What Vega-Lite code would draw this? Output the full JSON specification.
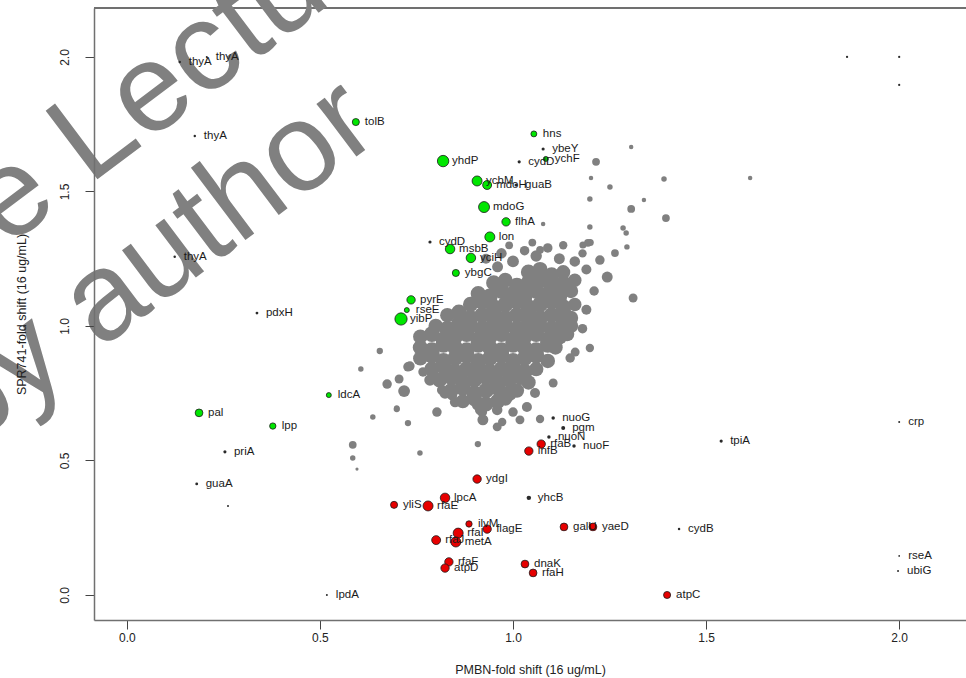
{
"$schema":"https://vega.github.io/schema/vega-lite/v6.json",
"width":872,"height":612,
"autosize":{"type":"none"},
"padding":{"left":94,"top":8,"right":0,"bottom":58},
"background":"white",
"config":{"view":{"stroke":null},"font":"Liberation Sans"},
"data":{"values":[
{"x":1.04,"y":1.20,"w":23,"g":"n"},{"x":1.07,"y":1.21,"w":23,"g":"n"},{"x":1.10,"y":1.19,"w":23,"g":"n"},{"x":1.13,"y":1.20,"w":20,"g":"n"},
{"x":0.95,"y":1.16,"w":23,"g":"n"},{"x":0.98,"y":1.17,"w":22,"g":"n"},{"x":1.01,"y":1.15,"w":25,"g":"n"},{"x":1.04,"y":1.16,"w":25,"g":"n"},{"x":1.07,"y":1.17,"w":25,"g":"n"},{"x":1.10,"y":1.15,"w":25,"g":"n"},{"x":1.13,"y":1.16,"w":23,"g":"n"},{"x":1.16,"y":1.17,"w":18,"g":"n"},
{"x":0.91,"y":1.12,"w":23,"g":"n"},{"x":0.94,"y":1.11,"w":25,"g":"n"},{"x":0.97,"y":1.13,"w":25,"g":"n"},{"x":1.00,"y":1.12,"w":25,"g":"n"},{"x":1.03,"y":1.11,"w":25,"g":"n"},{"x":1.06,"y":1.13,"w":25,"g":"n"},{"x":1.09,"y":1.12,"w":25,"g":"n"},{"x":1.12,"y":1.11,"w":25,"g":"n"},{"x":1.15,"y":1.13,"w":21,"g":"n"},
{"x":0.89,"y":1.08,"w":23,"g":"n"},{"x":0.92,"y":1.09,"w":25,"g":"n"},{"x":0.95,"y":1.07,"w":25,"g":"n"},{"x":0.98,"y":1.08,"w":25,"g":"n"},{"x":1.01,"y":1.09,"w":25,"g":"n"},{"x":1.04,"y":1.07,"w":25,"g":"n"},{"x":1.07,"y":1.08,"w":25,"g":"n"},{"x":1.10,"y":1.09,"w":25,"g":"n"},{"x":1.13,"y":1.07,"w":25,"g":"n"},{"x":1.16,"y":1.08,"w":18,"g":"n"},
{"x":0.83,"y":1.04,"w":21,"g":"n"},{"x":0.86,"y":1.05,"w":25,"g":"n"},{"x":0.89,"y":1.03,"w":25,"g":"n"},{"x":0.92,"y":1.04,"w":25,"g":"n"},{"x":0.95,"y":1.05,"w":25,"g":"n"},{"x":0.98,"y":1.03,"w":25,"g":"n"},{"x":1.01,"y":1.04,"w":25,"g":"n"},{"x":1.04,"y":1.05,"w":25,"g":"n"},{"x":1.07,"y":1.03,"w":25,"g":"n"},{"x":1.10,"y":1.04,"w":25,"g":"n"},{"x":1.13,"y":1.05,"w":25,"g":"n"},{"x":1.15,"y":1.03,"w":21,"g":"n"},
{"x":0.80,"y":1.00,"w":21,"g":"n"},{"x":0.83,"y":0.99,"w":25,"g":"n"},{"x":0.86,"y":1.01,"w":25,"g":"n"},{"x":0.89,"y":1.00,"w":25,"g":"n"},{"x":0.92,"y":0.99,"w":25,"g":"n"},{"x":0.95,"y":1.01,"w":25,"g":"n"},{"x":0.98,"y":1.00,"w":25,"g":"n"},{"x":1.01,"y":0.99,"w":25,"g":"n"},{"x":1.04,"y":1.01,"w":25,"g":"n"},{"x":1.07,"y":1.00,"w":25,"g":"n"},{"x":1.10,"y":0.99,"w":25,"g":"n"},{"x":1.13,"y":1.01,"w":25,"g":"n"},{"x":1.15,"y":1.00,"w":21,"g":"n"},
{"x":0.76,"y":0.96,"w":21,"g":"n"},{"x":0.79,"y":0.97,"w":25,"g":"n"},{"x":0.82,"y":0.95,"w":25,"g":"n"},{"x":0.85,"y":0.96,"w":25,"g":"n"},{"x":0.88,"y":0.97,"w":25,"g":"n"},{"x":0.91,"y":0.95,"w":25,"g":"n"},{"x":0.94,"y":0.96,"w":25,"g":"n"},{"x":0.97,"y":0.97,"w":25,"g":"n"},{"x":1.00,"y":0.95,"w":25,"g":"n"},{"x":1.03,"y":0.96,"w":25,"g":"n"},{"x":1.06,"y":0.97,"w":25,"g":"n"},{"x":1.09,"y":0.95,"w":25,"g":"n"},{"x":1.12,"y":0.96,"w":25,"g":"n"},{"x":1.14,"y":0.97,"w":21,"g":"n"},
{"x":0.76,"y":0.92,"w":23,"g":"n"},{"x":0.79,"y":0.91,"w":25,"g":"n"},{"x":0.82,"y":0.93,"w":25,"g":"n"},{"x":0.85,"y":0.92,"w":25,"g":"n"},{"x":0.88,"y":0.91,"w":25,"g":"n"},{"x":0.91,"y":0.93,"w":25,"g":"n"},{"x":0.94,"y":0.92,"w":25,"g":"n"},{"x":0.97,"y":0.91,"w":25,"g":"n"},{"x":1.00,"y":0.93,"w":25,"g":"n"},{"x":1.03,"y":0.92,"w":25,"g":"n"},{"x":1.06,"y":0.91,"w":25,"g":"n"},{"x":1.09,"y":0.93,"w":25,"g":"n"},{"x":1.11,"y":0.92,"w":21,"g":"n"},
{"x":0.76,"y":0.88,"w":21,"g":"n"},{"x":0.79,"y":0.89,"w":25,"g":"n"},{"x":0.82,"y":0.87,"w":25,"g":"n"},{"x":0.85,"y":0.88,"w":25,"g":"n"},{"x":0.88,"y":0.89,"w":25,"g":"n"},{"x":0.91,"y":0.87,"w":25,"g":"n"},{"x":0.94,"y":0.88,"w":25,"g":"n"},{"x":0.97,"y":0.89,"w":25,"g":"n"},{"x":1.00,"y":0.87,"w":25,"g":"n"},{"x":1.03,"y":0.88,"w":25,"g":"n"},{"x":1.06,"y":0.89,"w":25,"g":"n"},{"x":1.09,"y":0.87,"w":21,"g":"n"},
{"x":0.79,"y":0.84,"w":23,"g":"n"},{"x":0.82,"y":0.85,"w":25,"g":"n"},{"x":0.85,"y":0.83,"w":25,"g":"n"},{"x":0.88,"y":0.84,"w":25,"g":"n"},{"x":0.91,"y":0.85,"w":25,"g":"n"},{"x":0.94,"y":0.83,"w":25,"g":"n"},{"x":0.97,"y":0.84,"w":25,"g":"n"},{"x":1.00,"y":0.85,"w":25,"g":"n"},{"x":1.03,"y":0.83,"w":25,"g":"n"},{"x":1.06,"y":0.84,"w":21,"g":"n"},
{"x":0.81,"y":0.80,"w":23,"g":"n"},{"x":0.84,"y":0.81,"w":25,"g":"n"},{"x":0.87,"y":0.79,"w":25,"g":"n"},{"x":0.90,"y":0.80,"w":25,"g":"n"},{"x":0.93,"y":0.81,"w":25,"g":"n"},{"x":0.96,"y":0.79,"w":25,"g":"n"},{"x":0.99,"y":0.80,"w":25,"g":"n"},{"x":1.02,"y":0.81,"w":25,"g":"n"},{"x":1.04,"y":0.79,"w":21,"g":"n"},
{"x":0.84,"y":0.76,"w":23,"g":"n"},{"x":0.87,"y":0.77,"w":25,"g":"n"},{"x":0.90,"y":0.75,"w":25,"g":"n"},{"x":0.93,"y":0.76,"w":25,"g":"n"},{"x":0.96,"y":0.77,"w":25,"g":"n"},{"x":0.99,"y":0.75,"w":25,"g":"n"},{"x":1.01,"y":0.76,"w":21,"g":"n"},
{"x":0.87,"y":0.72,"w":20,"g":"n"},{"x":0.90,"y":0.73,"w":23,"g":"n"},{"x":0.93,"y":0.71,"w":23,"g":"n"},{"x":0.96,"y":0.72,"w":23,"g":"n"},{"x":0.98,"y":0.73,"w":20,"g":"n"},
{"x":0.93,"y":1.25,"w":10,"g":"n"},{"x":0.97,"y":1.27,"w":11,"g":"n"},{"x":1.00,"y":1.24,"w":14,"g":"n"},{"x":1.03,"y":1.28,"w":9,"g":"n"},{"x":1.06,"y":1.26,"w":13,"g":"n"},{"x":1.09,"y":1.29,"w":9,"g":"n"},{"x":1.12,"y":1.25,"w":12,"g":"n"},{"x":0.99,"y":1.30,"w":6,"g":"n"},{"x":1.05,"y":1.31,"w":6,"g":"n"},{"x":1.13,"y":1.30,"w":7,"g":"n"},{"x":1.16,"y":1.24,"w":11,"g":"n"},{"x":1.19,"y":1.21,"w":10,"g":"n"},{"x":1.18,"y":1.27,"w":7,"g":"n"},{"x":0.96,"y":1.22,"w":12,"g":"n"},{"x":1.225,"y":1.245,"w":9,"g":"n"},{"x":1.20,"y":1.31,"w":5,"g":"n"},{"x":1.244,"y":1.182,"w":12,"g":"n"},{"x":1.21,"y":1.13,"w":9,"g":"n"},{"x":1.19,"y":1.06,"w":10,"g":"n"},{"x":1.18,"y":0.99,"w":9,"g":"n"},
{"x":0.655,"y":0.907,"w":4,"g":"n"},{"x":0.606,"y":0.840,"w":3,"g":"n"},{"x":0.733,"y":0.851,"w":9,"g":"n"},{"x":0.705,"y":0.803,"w":8,"g":"n"},{"x":0.674,"y":0.784,"w":9,"g":"n"},{"x":0.718,"y":0.758,"w":14,"g":"n"},{"x":0.699,"y":0.695,"w":3,"g":"n"},{"x":0.637,"y":0.662,"w":3,"g":"n"},{"x":0.767,"y":0.829,"w":9,"g":"n"},{"x":0.585,"y":0.558,"w":6,"g":"n"},{"x":0.585,"y":0.509,"w":3,"g":"n"},{"x":0.596,"y":0.468,"w":1,"g":"n"},{"x":0.728,"y":0.848,"w":9,"g":"n"},{"x":0.785,"y":0.799,"w":13,"g":"n"},{"x":0.824,"y":0.751,"w":13,"g":"n"},{"x":0.850,"y":0.717,"w":11,"g":"n"},{"x":0.915,"y":0.688,"w":11,"g":"n"},{"x":0.959,"y":0.688,"w":11,"g":"n"},{"x":1.000,"y":0.680,"w":9,"g":"n"},{"x":1.036,"y":0.699,"w":10,"g":"n"},{"x":0.816,"y":0.762,"w":10,"g":"n"},{"x":0.842,"y":0.743,"w":11,"g":"n"},{"x":0.907,"y":0.706,"w":11,"g":"n"},{"x":0.803,"y":0.680,"w":9,"g":"n"},{"x":0.920,"y":0.680,"w":10,"g":"n"},{"x":0.922,"y":0.651,"w":12,"g":"n"},{"x":0.959,"y":0.625,"w":8,"g":"n"},{"x":0.972,"y":0.643,"w":7,"g":"n"},{"x":1.018,"y":0.651,"w":8,"g":"n"},{"x":1.070,"y":0.654,"w":7,"g":"n"},{"x":0.759,"y":0.528,"w":3,"g":"n"},{"x":0.909,"y":0.561,"w":4,"g":"n"},{"x":0.699,"y":0.691,"w":4,"g":"n"},{"x":0.728,"y":0.639,"w":4,"g":"n"},{"x":0.863,"y":0.792,"w":10,"g":"n"},{"x":1.104,"y":0.788,"w":8,"g":"n"},{"x":1.057,"y":0.751,"w":10,"g":"n"},{"x":1.148,"y":0.881,"w":9,"g":"n"},{"x":1.161,"y":0.903,"w":8,"g":"n"},{"x":1.199,"y":0.918,"w":7,"g":"n"},{"x":1.194,"y":1.309,"w":6,"g":"n"},{"x":1.199,"y":1.368,"w":3,"g":"n"},{"x":1.311,"y":1.104,"w":8,"g":"n"},{"x":1.295,"y":1.294,"w":3,"g":"n"},{"x":1.306,"y":1.665,"w":2,"g":"n"},{"x":1.215,"y":1.610,"w":6,"g":"n"},{"x":1.614,"y":1.550,"w":2,"g":"n"},{"x":1.202,"y":1.550,"w":2,"g":"n"},{"x":1.391,"y":1.546,"w":3,"g":"n"},{"x":1.251,"y":1.517,"w":3,"g":"n"},{"x":1.199,"y":1.472,"w":3,"g":"n"},{"x":1.339,"y":1.468,"w":2,"g":"n"},{"x":1.306,"y":1.435,"w":6,"g":"n"},{"x":1.396,"y":1.401,"w":6,"g":"n"},{"x":1.285,"y":1.364,"w":3,"g":"n"},{"x":1.293,"y":1.346,"w":3,"g":"n"},{"x":1.264,"y":1.271,"w":6,"g":"n"},{"x":1.078,"y":1.379,"w":2,"g":"n"},{"x":1.181,"y":1.301,"w":5,"g":"n"},{"x":1.070,"y":1.283,"w":6,"g":"n"},
{"x":1.865,"y":2.0,"w":0.5,"g":"h"},{"x":2.0,"y":2.0,"w":0.5,"g":"h"},{"x":2.0,"y":1.896,"w":0.5,"g":"h"},
{"x":0.137,"y":1.981,"w":0.6,"g":"h","label":"thyA"},
{"x":0.207,"y":2.000,"w":0.4,"g":"h","label":"thyA"},
{"x":0.176,"y":1.706,"w":0.6,"g":"h","label":"thyA"},
{"x":0.124,"y":1.257,"w":0.6,"g":"h","label":"thyA"},
{"x":0.337,"y":1.048,"w":0.8,"g":"h","label":"pdxH"},
{"x":1.078,"y":1.658,"w":1,"g":"h","label":"ybeY"},
{"x":1.016,"y":1.610,"w":1,"g":"h","label":"cydD"},
{"x":1.008,"y":1.524,"w":1,"g":"h","label":"guaB"},
{"x":0.785,"y":1.312,"w":1,"g":"h","label":"cydD"},
{"x":0.254,"y":0.532,"w":1,"g":"h","label":"priA"},
{"x":0.181,"y":0.413,"w":0.8,"g":"h","label":"guaA"},
{"x":0.262,"y":0.331,"w":0.4,"g":"h"},
{"x":0.518,"y":0.000,"w":0.4,"g":"h","label":"lpdA"},
{"x":2.000,"y":0.643,"w":0.4,"g":"h","label":"crp"},
{"x":1.539,"y":0.572,"w":1,"g":"h","label":"tpiA"},
{"x":2.000,"y":0.145,"w":0.3,"g":"h","label":"rseA"},
{"x":1.997,"y":0.089,"w":0.4,"g":"h","label":"ubiG"},
{"x":1.104,"y":0.658,"w":1.2,"g":"h","label":"nuoG"},
{"x":1.130,"y":0.621,"w":1.6,"g":"h","label":"pgm"},
{"x":1.093,"y":0.587,"w":1.2,"g":"h","label":"nuoN"},
{"x":1.158,"y":0.554,"w":1.2,"g":"h","label":"nuoF"},
{"x":1.041,"y":0.361,"w":2,"g":"h","label":"yhcB"},
{"x":1.430,"y":0.245,"w":0.6,"g":"h","label":"cydB"},
{"x":0.593,"y":1.758,"w":5,"g":"up","label":"tolB"},
{"x":1.054,"y":1.714,"w":3.5,"g":"up","label":"hns"},
{"x":1.085,"y":1.621,"w":2.5,"g":"up","label":"ychF"},
{"x":0.819,"y":1.613,"w":13,"g":"up","label":"yhdP"},
{"x":0.907,"y":1.539,"w":10,"g":"up","label":"ychM"},
{"x":0.933,"y":1.524,"w":8,"g":"up","label":"mdoH"},
{"x":0.925,"y":1.442,"w":12,"g":"up","label":"mdoG"},
{"x":0.982,"y":1.387,"w":7,"g":"up","label":"flhA"},
{"x":0.940,"y":1.331,"w":10,"g":"up","label":"lon"},
{"x":0.837,"y":1.286,"w":9,"g":"up","label":"msbB"},
{"x":0.891,"y":1.253,"w":9,"g":"up","label":"yciH"},
{"x":0.852,"y":1.197,"w":5,"g":"up","label":"ybgC"},
{"x":0.736,"y":1.097,"w":7,"g":"up","label":"pyrE"},
{"x":0.725,"y":1.059,"w":2.5,"g":"up","label":"rseE"},
{"x":0.710,"y":1.026,"w":15,"g":"up","label":"yibP"},
{"x":0.523,"y":0.743,"w":2.5,"g":"up","label":"ldcA"},
{"x":0.187,"y":0.677,"w":6,"g":"up","label":"pal"},
{"x":0.378,"y":0.628,"w":4,"g":"up","label":"lpp"},
{"x":1.073,"y":0.561,"w":7,"g":"down","label":"rfaB"},
{"x":1.041,"y":0.535,"w":7,"g":"down","label":"infB"},
{"x":0.907,"y":0.431,"w":7,"g":"down","label":"ydgI"},
{"x":0.824,"y":0.361,"w":9,"g":"down","label":"lpcA"},
{"x":0.692,"y":0.335,"w":5,"g":"down","label":"yliS"},
{"x":0.780,"y":0.331,"w":10,"g":"down","label":"rfaE"},
{"x":0.886,"y":0.264,"w":4,"g":"down","label":"ilvM"},
{"x":0.933,"y":0.245,"w":7,"g":"down","label":"flagE"},
{"x":0.858,"y":0.230,"w":10,"g":"down","label":"rfaI"},
{"x":0.801,"y":0.204,"w":8,"g":"down","label":"rfaJ"},
{"x":0.852,"y":0.197,"w":10,"g":"down","label":"metA"},
{"x":1.132,"y":0.253,"w":6,"g":"down","label":"galU"},
{"x":1.207,"y":0.253,"w":6,"g":"down","label":"yaeD"},
{"x":0.834,"y":0.123,"w":7,"g":"down","label":"rfaF"},
{"x":0.824,"y":0.100,"w":7,"g":"down","label":"atpD"},
{"x":1.031,"y":0.115,"w":6,"g":"down","label":"dnaK"},
{"x":1.052,"y":0.082,"w":6,"g":"down","label":"rfaH"},
{"x":1.399,"y":0.000,"w":5,"g":"down","label":"atpC"}
]},
"encoding":{
 "x":{"field":"x","type":"quantitative","title":"PMBN-fold shift (16 ug/mL)",
  "scale":{"domain":[-0.085,2.173],"nice":false,"zero":false},
  "axis":{"zindex":1,"values":[0,0.5,1,1.5,2],"format":".1f","grid":false,"domainColor":"#707070","domainWidth":1.5,"tickColor":"#444","tickSize":9,"labelFontSize":12,"labelColor":"#222","labelPadding":3,"titleFontSize":12.5,"titleFontWeight":"normal","titleColor":"#222","titlePadding":20}},
 "y":{"field":"y","type":"quantitative","title":"SPR741-fold shift (16 ug/mL)",
  "scale":{"domain":[-0.093,2.182],"nice":false,"zero":false},
  "axis":{"zindex":1,"values":[0,0.5,1,1.5,2],"format":".1f","grid":false,"domainColor":"#707070","domainWidth":1.5,"tickColor":"#444","tickSize":9,"labelFontSize":12,"labelColor":"#222","labelAngle":-90,"labelAlign":"center","labelBaseline":"bottom","labelPadding":14,"titleFontSize":12.5,"titleFontWeight":"normal","titleColor":"#222","titlePadding":30}}
},
"layer":[
 {"mark":{"type":"rule","color":"#707070","strokeWidth":1.5},
  "encoding":{"x":{"datum":-0.085},"x2":{"datum":2.173},"y":{"datum":2.182}}},
 {"data":{"values":[{"x":-0.097,"y":1.522,"t":"Lecture"},{"x":-0.070,"y":0.911,"t":"author"}]},
  "mark":{"type":"text","align":"left","baseline":"alphabetic","angle":-37,"fontSize":125,"color":"#808080","font":"Liberation Sans"},
  "encoding":{"text":{"field":"t"}}},
 {"data":{"values":[{"x":-0.169,"y":1.444,"t":"Sample"},{"x":-0.142,"y":0.833,"t":"by"}]},
  "mark":{"type":"text","align":"right","baseline":"alphabetic","angle":-37,"fontSize":125,"color":"#808080","font":"Liberation Sans"},
  "encoding":{"text":{"field":"t"}}},
 {"transform":[{"filter":"datum.g==='n'"}],
  "mark":{"type":"circle","color":"#808080","opacity":1},
  "encoding":{"size":{"field":"w","type":"quantitative","scale":{"domain":[0,15],"range":[0,150]},"legend":null}}},
 {"transform":[{"filter":"datum.g==='h'"}],
  "mark":{"type":"circle","color":"#2a2a2a","opacity":1},
  "encoding":{"size":{"field":"w","type":"quantitative","scale":{"domain":[0,15],"range":[0,150]},"legend":null}}},
 {"transform":[{"filter":"datum.g==='up' || datum.g==='down'"}],
  "mark":{"type":"point","shape":"circle","filled":true,"stroke":"#1a1a1a","strokeWidth":0.8,"opacity":1},
  "encoding":{"size":{"field":"w","type":"quantitative","scale":{"domain":[0,15],"range":[0,150]},"legend":null},
   "fill":{"field":"g","type":"nominal","scale":{"domain":["up","down"],"range":["#00e600","#e60000"]},"legend":null}}},
 {"transform":[{"filter":"isValid(datum.label)"}],
  "mark":{"type":"text","align":"left","baseline":"middle","dx":9,"fontSize":11.5,"color":"#1a1a1a","font":"Liberation Sans"},
  "encoding":{"text":{"field":"label"}}}
]
}
